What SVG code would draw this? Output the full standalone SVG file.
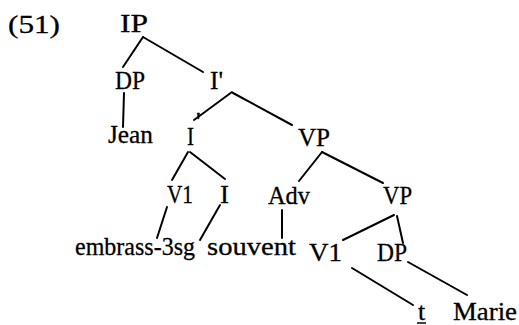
<svg xmlns="http://www.w3.org/2000/svg" width="519" height="325" viewBox="0 0 519 325">
<style>
text{font-family:"Liberation Serif","Times New Roman",serif;font-size:26px;fill:#000;stroke:#000;stroke-width:0.3}
.c line{stroke:#000;stroke-width:2;stroke-linecap:round}
</style>
<rect width="519" height="325" fill="#fff"/>
<text id="ex" x="8" y="33" font-size="27" textLength="52" lengthAdjust="spacingAndGlyphs">(51)</text>
<g class="c" id="connectors">
<line x1="143" y1="37" x2="123" y2="67"/>
<line x1="143" y1="37" x2="203" y2="72"/>
<line x1="124" y1="93" x2="123" y2="127"/>
<line x1="232" y1="92" x2="194" y2="120"/>
<line x1="233" y1="93" x2="292" y2="125"/>
<line x1="188" y1="152" x2="172" y2="180"/>
<line x1="190" y1="152" x2="225" y2="179"/>
<line x1="167" y1="207" x2="157" y2="238"/>
<line x1="220" y1="205" x2="200" y2="240"/>
<line x1="322" y1="152" x2="299" y2="181"/>
<line x1="322" y1="152" x2="383" y2="183"/>
<line x1="282" y1="210" x2="282" y2="238"/>
<line x1="394" y1="215" x2="343" y2="240"/>
<line x1="397" y1="216" x2="403" y2="243"/>
<line x1="352" y1="268" x2="413" y2="305"/>
<line x1="408" y1="262" x2="467" y2="295"/>
</g>
<g id="n-IP"><text x="120" y="32" textLength="28" lengthAdjust="spacingAndGlyphs">IP</text></g>
<g id="n-DP1"><text x="115" y="89" textLength="30" lengthAdjust="spacingAndGlyphs">DP</text></g>
<g id="n-Ibar1"><text x="210" y="89" textLength="13" lengthAdjust="spacingAndGlyphs">I'</text></g>
<g id="n-Jean"><text x="108" y="143" textLength="45" lengthAdjust="spacingAndGlyphs">Jean</text></g>
<g id="n-I1"><text x="187" y="145" textLength="7" lengthAdjust="spacingAndGlyphs">I</text><text x="196" y="130" font-size="12" fill="#bbb" stroke="none">'</text></g>
<g id="n-VP1"><text x="298" y="146" textLength="32" lengthAdjust="spacingAndGlyphs">VP</text></g>
<g id="n-V1a"><text x="167" y="203" textLength="26" lengthAdjust="spacingAndGlyphs">V1</text></g>
<g id="n-I2"><text x="220" y="203" textLength="9" lengthAdjust="spacingAndGlyphs">I</text></g>
<g id="n-Adv"><text x="268" y="204" textLength="42" lengthAdjust="spacingAndGlyphs">Adv</text></g>
<g id="n-VP2"><text x="383" y="204" textLength="29" lengthAdjust="spacingAndGlyphs">VP</text></g>
<g id="n-embrass"><text x="75" y="255" textLength="120" lengthAdjust="spacingAndGlyphs">embrass-3sg</text></g>
<g id="n-souvent"><text x="207" y="255" textLength="89" lengthAdjust="spacingAndGlyphs">souvent</text></g>
<g id="n-V1b"><text x="309" y="261" textLength="33" lengthAdjust="spacingAndGlyphs">V1</text></g>
<g id="n-DP2"><text x="377" y="261" textLength="30" lengthAdjust="spacingAndGlyphs">DP</text></g>
<g id="n-t"><text x="418" y="320">t</text><line x1="417" y1="323" x2="426" y2="323" stroke="#000" stroke-width="1.5"/></g>
<g id="n-Marie"><text x="453" y="320" textLength="64" lengthAdjust="spacingAndGlyphs">Marie</text></g>
</svg>
